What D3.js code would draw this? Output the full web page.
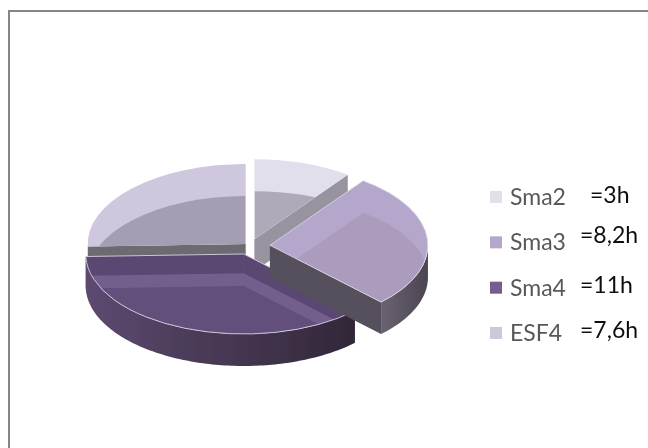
<!DOCTYPE html>
<html>
<head>
<meta charset="utf-8">
<script src="https://cdn.jsdelivr.net/npm/d3@7"></script>
<style>
html, body { margin: 0; padding: 0; background: #fff; }
svg { display: block; }
</style>
</head>
<body>
<script>
//#### DATA ####
var categories = ["Sma2", "Sma3", "Sma4", "ESF4"];
var hours = [3, 8.2, 11, 7.6];
var hourLabels = ["=3h", "=8,2h", "=11h", "=7,6h"];
var explode = [14, 20, 17, 6];

var topColors = ["#e2dfec", "#b5a6cb", "#735f8d", "#cfc7de"];
var floorColors = ["#afaab9", "#ab9cbd", "#624f7c", "#a59db1"];
var wallColors = ["#98949f", "#57505c", "#4a3a5c", "#6e6a72"];

// #### layout ####
var width = 648, height = 448;
var cx = 250, cy = 246;
var rx = 158, ry = 80, depth = 32;
var squash = ry / rx;

var svg = d3.select("body").append("svg")
  .attr("width", width)
  .attr("height", height);

// frame, only top and left are visible
svg.append("path")
  .attr("d", "M9," + height + "V11H" + width)
  .attr("fill", "none")
  .attr("stroke", "#868686")
  .attr("stroke-width", 2);

var defs = svg.append("defs");
defs.append("filter").attr("id", "soft")
  .append("feGaussianBlur").attr("stdDeviation", 0.45);
defs.append("filter").attr("id", "softText")
  .append("feGaussianBlur").attr("stdDeviation", 0.25);

var sideGrad = defs.selectAll(".side")
  .data([["sideSma3", "#6a6270", "#4c4552"], ["sideSma4", "#5c4a70", "#322738"]])
  .enter().append("linearGradient")
  .attr("id", function(d) { return d[0]; });
sideGrad.append("stop").attr("offset", "0%").attr("stop-color", function(d) { return d[1]; });
sideGrad.append("stop").attr("offset", "100%").attr("stop-color", function(d) { return d[2]; });

// #### pie ####
var pie = d3.pie().sort(null).value(function(d) { return d; });
var slices = pie(hours).map(function(d, i) {
  var mid = (d.startAngle + d.endAngle) / 2;
  d.name = categories[i];
  d.i = i;
  d.ox = cx + explode[i] * Math.sin(mid);
  d.oy = cy - explode[i] * Math.cos(mid) * squash;
  return d;
});

var arc = d3.arc().innerRadius(0).outerRadius(rx);

function rim(a) { return [rx * Math.sin(a), -ry * Math.cos(a)]; }

var chart = svg.append("g").attr("filter", "url(#soft)");

// painter's order: back slices first
var order = [3, 0, 2, 1];

order.forEach(function(i) {
  var d = slices[i];
  var g = chart.append("g")
    .attr("transform", "translate(" + d.ox + "," + d.oy + ")");

  // cut walls, from apex out to the rim, one per edge
  [d.startAngle, d.endAngle].forEach(function(a) {
    var p = rim(a);
    g.append("path")
      .attr("d", d3.line()([[0, 0], p, [p[0], p[1] + depth], [0, depth]]) + "Z")
      .attr("fill", wallColors[i]);
  });

  // outer wall, only the front part of the rim can be seen
  var from = Math.max(d.startAngle, Math.PI / 2);
  var to = Math.min(d.endAngle, 3 * Math.PI / 2);
  if (to > from) {
    var side = d3.area()
      .x(function(a) { return rim(a)[0]; })
      .y0(function(a) { return rim(a)[1]; })
      .y1(function(a) { return rim(a)[1] + depth; });
    g.append("path")
      .attr("d", side(d3.range(from, to, 0.02).concat([to])))
      .attr("fill", "url(#side" + d.name + ")");
  }

  // top face
  var clipId = "clip" + d.name;
  defs.append("clipPath").attr("id", clipId)
    .append("path")
    .attr("transform", "scale(1," + squash + ")")
    .attr("d", arc(d));

  var topFace = g.append("g");
  topFace.append("path")
    .attr("transform", "scale(1," + squash + ")")
    .attr("d", arc(d))
    .attr("fill", topColors[i]);

  // floor of the slice seen through the top, same sector moved down
  topFace.append("g")
    .attr("clip-path", "url(#" + clipId + ")")
    .append("path")
    .attr("transform", "translate(0," + depth + ") scale(1," + squash + ")")
    .attr("d", arc(d))
    .attr("fill", floorColors[i]);

  // back wall of Sma4 shows through as a darker strip
  if (d.name == "Sma4") {
    var clipped = topFace.append("g").attr("clip-path", "url(#" + clipId + ")");
    [d.startAngle, d.endAngle].forEach(function(a) {
      var p = rim(a);
      clipped.append("path")
        .attr("d", d3.line()([[0, 0], p, [p[0], p[1] + depth * 0.6], [0, depth * 0.6]]) + "Z")
        .attr("fill", "#5a4672");
    });
  }

  // light edge along the front
  if (d.name == "Sma3" || d.name == "Sma4") {
    g.append("path")
      .attr("transform", "scale(1," + squash + ")")
      .attr("d", arc(d))
      .attr("fill", "none")
      .attr("stroke", "#e6e1ee")
      .attr("stroke-width", 1)
      .attr("stroke-opacity", 0.8)
      .attr("vector-effect", "non-scaling-stroke");
  }
});

// #### legend ####
var y = d3.scalePoint()
  .domain(categories)
  .range([197, 333]);

var legend = svg.selectAll(".legend")
  .data(categories)
  .enter().append("g")
  .attr("class", "legend")
  .attr("transform", function(d) { return "translate(0," + y(d) + ")"; });

legend.append("rect")
  .attr("x", 490)
  .attr("y", -6)
  .attr("width", 12)
  .attr("height", 12)
  .attr("fill", function(d, i) { return topColors[i]; });

legend.append("text")
  .attr("x", 510)
  .attr("y", 8)
  .attr("font-family", "Lato, sans-serif")
  .attr("font-size", 23)
  .attr("fill", "#595959")
  .attr("filter", "url(#softText)")
  .text(function(d) { return d; });

// typed-in hour notes sit a little off the legend rows
var noteX = [590, 580, 580, 580];
var noteDy = [6, 1, 5, 5];

legend.append("text")
  .attr("x", function(d, i) { return noteX[i]; })
  .attr("y", function(d, i) { return noteDy[i]; })
  .attr("font-family", "Lato, sans-serif")
  .attr("font-size", 23)
  .attr("fill", "#111")
  .attr("filter", "url(#softText)")
  .text(function(d, i) { return hourLabels[i]; });
</script>
</body>
</html>
